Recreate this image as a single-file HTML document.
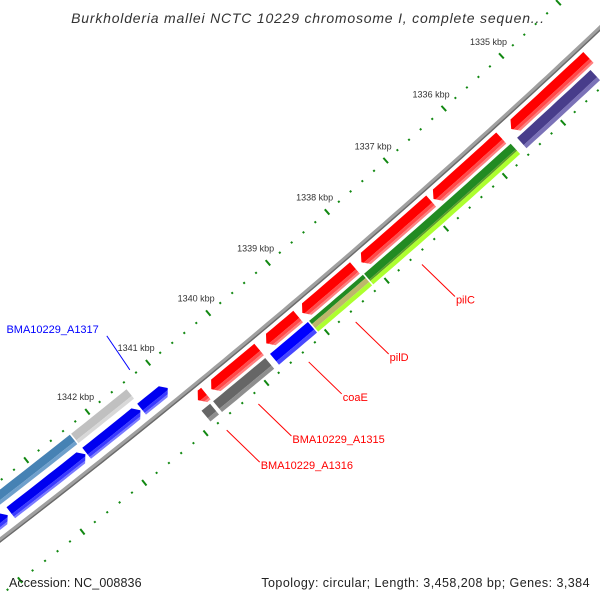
<!DOCTYPE html>
<html><head><meta charset="utf-8"><style>
html,body{margin:0;padding:0;background:#fff;width:600px;height:600px;overflow:hidden;}
svg{display:block;font-family:"Liberation Sans",sans-serif;overflow:hidden;}
</style></head><body>
<svg id="map" width="600" height="600" viewBox="0 0 600 600" xmlns="http://www.w3.org/2000/svg">
<defs><clipPath id="frame"><rect x="0" y="0" width="600" height="600"/></clipPath></defs>
<rect x="0" y="0" width="600" height="600" fill="#fff"/>
<g clip-path="url(#frame)">
<g id="rulers"></g>
<g id="backbone"></g>
<g id="features"></g>
<g id="labels"></g>
</g>
<text x="308" y="23" text-anchor="middle" font-size="14" letter-spacing="0.8" font-style="italic" fill="#333">Burkholderia mallei NCTC 10229 chromosome I, complete sequen...</text>
<text x="9" y="587" font-size="12.5" letter-spacing="0.1" fill="#222">Accession: NC_008836</text>
<text x="590" y="587" text-anchor="end" font-size="12.5" letter-spacing="0.45" fill="#222">Topology: circular; Length: 3,458,208 bp; Genes: 3,384</text>
</svg>
<script>
// ---- data (kbp) ----
const majorTicks = [1335, 1336, 1337, 1338, 1339, 1340, 1341, 1342];
const tickLabels = ["1335 kbp","1336 kbp","1337 kbp","1338 kbp","1339 kbp","1340 kbp","1341 kbp","1342 kbp"];
const featStart = [1334.2, 1335.71, 1336.91, 1338.20, 1339.15, 1339.80, 1340.68,
                   1334.29, 1335.67, 1338.18, 1339.10, 1339.81, 1340.72,
                   1341.01, 1341.46, 1342.36, 1343.62,
                   1341.43, 1342.36];
const featEnd   = [1335.54, 1336.87, 1338.09, 1339.08, 1339.68, 1340.59, 1340.81,
                   1335.56, 1338.16, 1339.08, 1339.73, 1340.67, 1340.86,
                   1341.44, 1342.34, 1343.57, 1344.6,
                   1342.34, 1344.6];
const featRow   = ["o1","o1","o1","o1","o1","o1","o1",
                   "o2","o2","o2","o2","o2","o2",
                   "i1","i1","i1","i1",
                   "i2","i2"];
const featStyle = ["red","red","red","red","red","red","red",
                   "purple","green","tan","blue","dgray","dgray",
                   "blueR","blueR","blueR","blueR",
                   "lgray","steel"];
const labelText = ["pilC","pilD","coaE","BMA10229_A1315","BMA10229_A1316","BMA10229_A1317"];
const labelKbp  = [1337.53, 1338.64, 1339.42, 1340.25, 1340.77, 1341.24];
const labelSide = ["out","out","out","out","out","in"];

// ---- geometry ----
const CX=-4737, CY=-5619, R0=7770;
const TH0=Math.atan2(5832,5065), DTH=78/7723;
const rowR={o1:[6,21],o2:[24,38],i1:[-22,-8],i2:[-40,-28]};
function ang(k){return TH0+(k-1338)*DTH;}
function pt(k,r){const a=ang(k),R=R0+r;return [CX+R*Math.cos(a),CY+R*Math.sin(a)];}
const NS="http://www.w3.org/2000/svg";
function mk(tag,attrs,parent){const e=document.createElementNS(NS,tag);for(const a in attrs)e.setAttribute(a,attrs[a]);parent.appendChild(e);return e;}
function arcPts(k1,k2,r){const n=Math.max(2,Math.ceil(Math.abs(k2-k1)*8));const p=[];for(let i=0;i<=n;i++)p.push(pt(k1+(k2-k1)*i/n,r));return p;}

// ---- rulers ----
const rul=document.getElementById('rulers');
[-47,44].forEach(function(rr){
  for(let m=1334*5; m<=1345*5; m++){
    const k=m/5;
    const major=(m%5===0);
    const h=major?3.5:1;
    const a=pt(k,rr-h),b=pt(k,rr+h);
    if(a[0]<-5||a[0]>605||a[1]<-5||a[1]>605) continue;
    const ln=mk('line',{x1:a[0],y1:a[1],x2:b[0],y2:b[1],stroke:'#118811','stroke-width':2},rul);
    
    
  }
});
majorTicks.forEach(function(k,i){
  const p=pt(k,-66);
  const t=mk('text',{x:p[0],y:p[1]+3,'text-anchor':'middle','font-size':9,fill:'#333'},rul);
  t.textContent=tickLabels[i];
  
  
});

// ---- backbone ----
const bb=document.getElementById('backbone');
function arcPath(k1,k2,r){return 'M'+arcPts(k1,k2,r).map(p=>p[0].toFixed(1)+','+p[1].toFixed(1)).join(' L');}
const b1=mk('path',{d:arcPath(1333.5,1345,0),fill:'none',stroke:'#a0a0a0','stroke-width':4.5},bb);


const b2=mk('path',{d:arcPath(1333.5,1345,1.6),fill:'none',stroke:'#6a6a6a','stroke-width':1.4},bb);



// ---- features ----
const styles={
 red:{bands:[[0,0.62,'#ff0000'],[0.62,0.85,'#ff4a4a'],[0.85,1,'#ff8080']],arrow:1},
 blueR:{bands:[[0,0.62,'#0000f0'],[0.62,0.85,'#3a3aff'],[0.85,1,'#7a7aff']],arrow:-1},
 purple:{bands:[[0,0.7,'#483d8b'],[0.7,1,'#7b72b8']],arrow:0},
 green:{bands:[[0,0.55,'#228b22'],[0.55,0.68,'#5f9e2a'],[0.68,1,'#adff2f']],arrow:0},
 tan:{bands:[[0,0.3,'#228b22'],[0.3,0.68,'#bdb76b'],[0.68,1,'#adff2f']],arrow:0},
 blue:{bands:[[0,0.7,'#0000ff'],[0.7,1,'#4848ff']],arrow:0},
 dgray:{bands:[[0,0.7,'#666666'],[0.7,1,'#8e8e8e']],arrow:0},
 lgray:{bands:[[0,0.7,'#c0c0c0'],[0.7,1,'#d8d8d8']],arrow:0},
 steel:{bands:[[0,0.7,'#4682b4'],[0.7,1,'#6fa0cc']],arrow:0}
};
const fg=document.getElementById('features');
const HEAD=0.075;
function bandPoly(k1,k2,ra,rb,fa,fb,dir){
  const w=rb-ra;
  function tipK(f){ if(dir===0) return [k1,k2]; const d=HEAD*Math.abs(2*f-1); return dir>0?[k1,k2-d]:[k1+d,k2]; }
  const A=tipK(fa),B=tipK(fb);
  let pts=[];
  pts=pts.concat(arcPts(A[0],A[1],ra+fa*w));
  if(dir>0){ if(fa<0.5&&fb>0.5) pts.push(pt(k2,ra+0.5*w)); }
  pts=pts.concat(arcPts(B[1],B[0],ra+fb*w));
  if(dir<0){ if(fa<0.5&&fb>0.5) pts.push(pt(k1,ra+0.5*w)); }
  return pts.map(p=>p[0].toFixed(1)+','+p[1].toFixed(1)).join(' ');
}
featStart.forEach(function(s,i){
  const e=featEnd[i], r=rowR[featRow[i]], st=styles[featStyle[i]];
  const g=mk('g',{},fg);
  
  
  st.bands.forEach(function(bd){
    const pg=mk('polygon',{points:bandPoly(s,e,r[0],r[1],bd[0],bd[1],st.arrow),fill:bd[2]},g);
    
    
  });
});

// ---- labels ----
const lg=document.getElementById('labels');
labelText.forEach(function(txt,i){
  const out=labelSide[i]==='out';
  const p=out?pt(labelKbp[i],55):pt(labelKbp[i],-53);
  const col=out?'#ff0000':'#0000ff';
  const q=out?[p[0]+33,p[1]+32]:[p[0]-23,p[1]-34];
  const ln=mk('line',{x1:p[0],y1:p[1],x2:q[0],y2:q[1],stroke:col,'stroke-width':1},lg);
  
  
  const t=mk('text',out?{x:q[0]+1,y:q[1]+7,'font-size':11,fill:col}:{x:q[0]-8,y:q[1]-3,'font-size':11,fill:col,'text-anchor':'end'},lg);
  t.textContent=txt;
  
  
});
</script>
</body></html>
